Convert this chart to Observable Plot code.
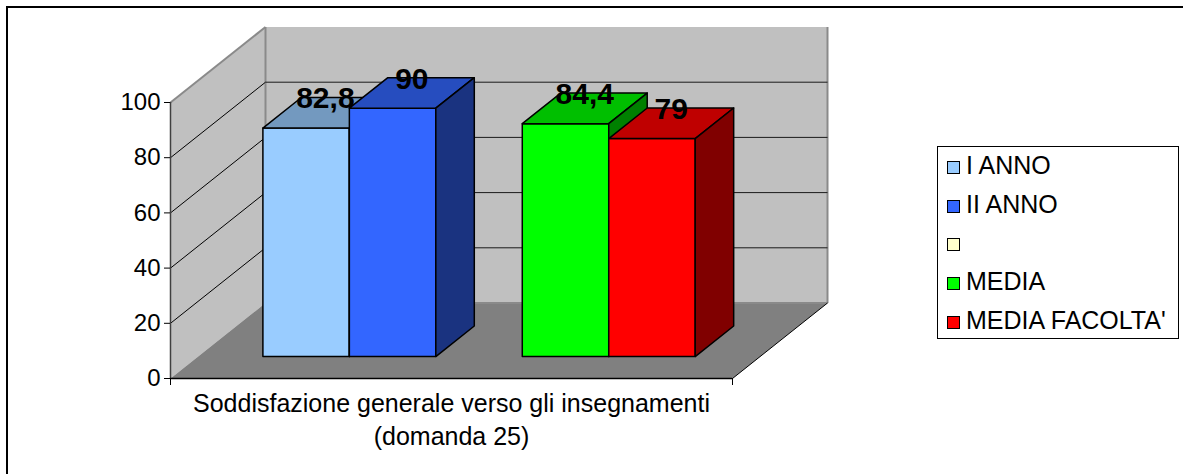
<!DOCTYPE html>
<html><head><meta charset="utf-8">
<script src="https://cdn.jsdelivr.net/npm/d3@7"></script>
<script src="https://cdn.jsdelivr.net/npm/@observablehq/plot@0.6"></script>
<style>
html,body{margin:0;padding:0;background:#fff;overflow:hidden;}
#wrap{position:relative;width:1183px;height:474px;overflow:hidden;font-family:"Liberation Sans",Arial,sans-serif;}
#chart{position:absolute;left:0;top:0;}
#border{position:absolute;left:6px;top:6px;width:1300px;height:600px;border-top:2.5px solid #000;border-left:2.5px solid #000;}
#legend{position:absolute;left:937px;top:146px;width:242px;height:193px;box-sizing:border-box;border:1px solid #000;background:#fff;}
.item{position:absolute;left:9px;height:26px;display:flex;align-items:center;font-size:25px;color:#000;white-space:nowrap;}
.sw{width:11px;height:11px;border:1px solid #000;margin-right:6px;margin-top:4px;}
</style></head>
<body><div id="wrap"><div id="border"></div><div id="chart"></div><div id="legend"></div></div>
<script>
// ---- data ----
const series = ["I ANNO", "II ANNO", "", "MEDIA", "MEDIA FACOLTA'"];
const values = [82.8, 90, null, 84.4, 79];
const seriesColors = ["#99CCFF", "#3366FF", "#FFFFCC", "#00FF00", "#FF0000"];
const category = "Soddisfazione generale verso gli insegnamenti\n(domanda 25)";
const yTicks = [0, 20, 40, 60, 80, 100];

// ---- layout ----
const W = 1183, H = 474, mL = 170, mR = 451, mT = 102, mB = 96;
const gap = 1.5;                       // Excel gap width 150%
const catW = series.length + gap;      // x-domain in bar-slot units
const pxX = (W - mL - mR) / catW;
const pxY = (H - mT - mB) / 100;
const DX = 95 / pxX, DY = 75.5 / pxY;  // depth vector in data units
const d0 = 0.29, d1 = 0.695;           // bar front/back depth
const P = (x, v, d) => ({x: x + d * DX, y: v + d * DY});

const shade = (c, k) => { const r = d3.rgb(c); return d3.rgb(r.r * k, r.g * k, r.b * k).formatHex(); };

function poly(id, pts, fill) { return pts.map(([x, v, d]) => ({id, fill, ...P(x, v, d)})); }

const walls = [
  ...poly("left", [[0,0,0],[0,0,1],[0,100,1],[0,100,0]], "#C0C0C0"),
  ...poly("back", [[0,0,1],[catW,0,1],[catW,100,1],[0,100,1]], "#C0C0C0")
];
const floor = poly("floor", [[0,0,0],[catW,0,0],[catW,0,1],[0,0,1]], "#808080");

const bars = [];
const labels = [];
series.forEach((s, i) => {
  const v = values[i];
  if (v == null) return;
  const c = seriesColors[i];
  const x0 = gap / 2 + i, x1 = x0 + 1;
  bars.push(...poly(`f${i}`, [[x0,0,d0],[x1,0,d0],[x1,v,d0],[x0,v,d0]], c));
  bars.push(...poly(`t${i}`, [[x0,v,d0],[x1,v,d0],[x1,v,d1],[x0,v,d1]], shade(c, 0.75)));
  bars.push(...poly(`s${i}`, [[x1,0,d0],[x1,0,d1],[x1,v,d1],[x1,v,d0]], shade(c, 0.5)));
  const dm = (d0 + d1) / 2;
  labels.push({x: x0 + 0.5 + dm * DX, y: v + dm * DY, text: String(v).replace(".", ",")});
});

const gridV = yTicks.filter(t => t > 0 && t < 100);
const leftGrid = gridV.map(v => ({x1: 0, y1: v, x2: DX, y2: v + DY}));
const backGrid = gridV.map(v => ({x1: DX, y1: v + DY, x2: catW + DX, y2: v + DY}));
const grayEdges = [
  {x1: 0, y1: 100, x2: DX, y2: 100 + DY},
  {x1: DX, y1: DY, x2: DX, y2: 100 + DY},
  {x1: catW + DX, y1: DY, x2: catW + DX, y2: 100 + DY},
  {x1: DX, y1: DY, x2: catW + DX, y2: DY}
];
const floorEdge = [{x1: catW, y1: 0, x2: catW + DX, y2: DY}];

const chart = Plot.plot({
  width: W, height: H,
  marginLeft: mL, marginRight: mR, marginTop: mT, marginBottom: mB,
  x: {domain: [0, catW], axis: null},
  y: {domain: [0, 100], axis: null},
  color: {type: "identity"},
  style: {fontFamily: "'Liberation Sans', Arial, sans-serif", background: "transparent", overflow: "visible"},
  marks: [
    Plot.line(walls, {x: "x", y: "y", z: "id", fill: "fill", stroke: "none", curve: "linear-closed"}),
    Plot.line(floor, {x: "x", y: "y", z: "id", fill: "fill", stroke: "none", curve: "linear-closed"}),
    Plot.link(grayEdges, {x1: "x1", y1: "y1", x2: "x2", y2: "y2", stroke: "#8a8a8a", strokeWidth: 2}),
    Plot.link(leftGrid, {x1: "x1", y1: "y1", x2: "x2", y2: "y2", stroke: "#000", strokeWidth: 1}),
    Plot.link(backGrid, {x1: "x1", y1: "y1", x2: "x2", y2: "y2", stroke: "#1a1a1a", strokeWidth: 1}),
    Plot.link(floorEdge, {x1: "x1", y1: "y1", x2: "x2", y2: "y2", stroke: "#000", strokeWidth: 1}),
    Plot.line(bars, {x: "x", y: "y", z: "id", fill: "fill", stroke: "#000", strokeWidth: 1.5, strokeLinejoin: "round", curve: "linear-closed"}),
    Plot.ruleX([0], {y1: 0, y2: 100, stroke: "#404040", strokeWidth: 1.5}),
    Plot.ruleY([0], {x1: 0, x2: catW, stroke: "#000", strokeWidth: 1.5}),
    Plot.axisY({ticks: yTicks, tickSize: 6, tickPadding: 4, fontSize: 24, label: null, anchor: "left"}),
    Plot.axisX({ticks: [0, catW], tickSize: 7, tickFormat: () => "", label: null, anchor: "bottom"}),
    Plot.text([category], {x: catW / 2, y: 0, text: d => d, dy: 10, lineAnchor: "top", fontSize: 25, lineHeight: 1.32, fill: "#000"}),
    Plot.text(labels, {x: "x", y: "y", text: "text", dy: -14, fontSize: 30, fontWeight: "bold", lineAnchor: "middle", fill: "#000"})
  ]
});
document.getElementById("chart").appendChild(chart);

// ---- legend ----
const legend = document.getElementById("legend");
series.forEach((s, i) => {
  const it = document.createElement("div");
  it.className = "item";
  it.style.top = (18.5 + i * 38.7 - 13) + "px";
  const sw = document.createElement("span");
  sw.className = "sw";
  sw.style.background = seriesColors[i];
  const tx = document.createElement("span");
  tx.textContent = s;
  it.appendChild(sw); it.appendChild(tx);
  legend.appendChild(it);
});
</script>
</body></html>
